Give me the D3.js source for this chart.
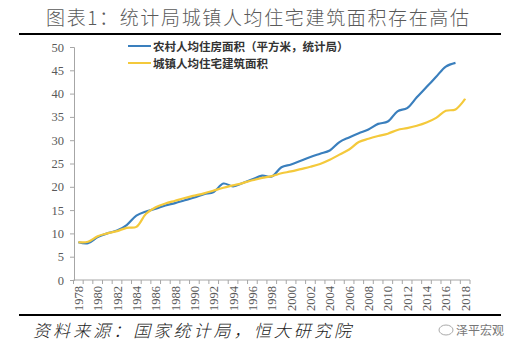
<!DOCTYPE html>
<html><head><meta charset="utf-8">
<script src="https://cdn.jsdelivr.net/npm/d3@7"></script>
<style>body{margin:0;background:#fff}svg{display:block}</style>
</head><body>
<svg id="c" width="519" height="352"></svg>
<script>
const years = d3.range(1978, 2019);
const tickYears = d3.range(1978, 2019, 2);
const yTicks = [0,5,10,15,20,25,30,35,40,45,50];
const ruralValues = [8.1,7.9,9.2,10.0,10.6,11.8,13.8,14.7,15.3,16.0,16.5,17.1,17.7,18.4,18.9,20.7,20.1,20.8,21.6,22.4,22.2,24.2,24.8,25.6,26.4,27.1,27.8,29.6,30.6,31.5,32.3,33.5,34.0,36.2,36.9,39.2,41.4,43.6,45.8,46.6];
const urbanValues = [8.1,8.2,9.4,10.0,10.5,11.2,11.4,14.2,15.6,16.4,17.0,17.6,18.1,18.6,19.2,19.8,20.3,20.8,21.4,21.9,22.3,22.9,23.3,23.8,24.3,24.9,25.8,26.9,28.0,29.6,30.3,30.9,31.4,32.2,32.6,33.1,33.8,34.8,36.3,36.6,38.9];
const legendLabels = ["农村人均住房面积（平方米，统计局）","城镇人均住宅建筑面积"];
const titleText = "图表1：统计局城镇人均住宅建筑面积存在高估";
const sourceText = "资料来源：国家统计局，恒大研究院";
const brandText = "泽平宏观";

const svg = d3.select("#c");
const blue = "#3a7fbd", yellow = "#f4c93b", axisCol = "#a6a6a6", textCol = "#595959";
const cjk = "'Noto Sans CJK SC','Noto Sans',sans-serif";
const serif = "'Liberation Serif','DejaVu Serif',serif";

// title
svg.append("text").attr("x", 46).attr("y", 25).attr("font-family", cjk).attr("font-size", 19)
  .attr("font-weight", 300).attr("fill", "#5a5a5a").attr("textLength", 423).attr("lengthAdjust", "spacing").text(titleText);
svg.append("line").attr("x1", 19).attr("x2", 501).attr("y1", 34).attr("y2", 34).attr("stroke", "#000").attr("stroke-width", 2);
svg.append("line").attr("x1", 19).attr("x2", 501).attr("y1", 315).attr("y2", 315).attr("stroke", "#000").attr("stroke-width", 2);
svg.append("text").attr("x", 33).attr("y", 337).attr("font-family", cjk).attr("font-size", 17).attr("font-style", "italic")
  .attr("font-weight", 300).attr("fill", "#222").attr("textLength", 318).attr("lengthAdjust", "spacing").text(sourceText);
// watermark
const wm = svg.append("g").attr("transform", "translate(446,331)");
wm.append("ellipse").attr("cx", 0).attr("cy", -1).attr("rx", 7).attr("ry", 5).attr("fill", "none").attr("stroke", "#aaa").attr("stroke-width", 1);
wm.append("text").attr("x", 10).attr("y", 4).attr("font-family", cjk).attr("font-size", 12).attr("fill", "#777").text(brandText);

// scales
const x = d3.scaleBand().domain(years).range([73.5, 470]);
const xc = d => x(d) + x.bandwidth() / 2;
const y = d3.scaleLinear().domain([0, 50]).range([280, 47]);

// y axis
const yAxis = svg.append("g").attr("transform", "translate(74,0)")
  .call(d3.axisLeft(y).tickValues(yTicks).tickSize(4).tickPadding(6));
yAxis.select(".domain").attr("stroke", axisCol);
yAxis.selectAll(".tick line").attr("stroke", axisCol);
yAxis.selectAll("text").attr("font-family", serif).attr("font-size", 12.5).attr("fill", textCol);

// x axis
const xg = svg.append("g").attr("transform", "translate(0,280)");
xg.append("line").attr("x1", 73.5).attr("x2", 470).attr("stroke", axisCol);
const bounds = years.map(d => x(d)).concat([470]);
xg.selectAll("line.t").data(bounds).join("line").attr("class", "t")
  .attr("x1", d => d).attr("x2", d => d).attr("y1", 0).attr("y2", 4).attr("stroke", axisCol);
xg.selectAll("text").data(tickYears).join("text")
  .attr("transform", d => `translate(${xc(d) + 4.5},6) rotate(-90)`)
  .attr("text-anchor", "end").attr("font-family", serif).attr("font-size", 12.5).attr("fill", textCol)
  .text(d => d);

// lines
const line = d3.line().x(d => xc(d[0])).y(d => y(d[1])).curve(d3.curveCatmullRom.alpha(0.5));
const ruralData = ruralValues.map((v, i) => [years[i], v]);
const urbanData = urbanValues.map((v, i) => [years[i], v]);
svg.append("path").datum(ruralData).attr("d", line).attr("fill", "none").attr("stroke", blue).attr("stroke-width", 2.2);
svg.append("path").datum(urbanData).attr("d", line).attr("fill", "none").attr("stroke", yellow).attr("stroke-width", 2.2);

// legend
const lg = svg.append("g");
[[blue, 46], [yellow, 63]].forEach((c, i) => {
  lg.append("line").attr("x1", 128).attr("x2", 151).attr("y1", c[1]).attr("y2", c[1]).attr("stroke", c[0]).attr("stroke-width", 2);
  lg.append("text").attr("x", 153).attr("y", c[1] + 4.5).attr("font-family", cjk).attr("font-size", 11.5)
    .attr("font-weight", 700).attr("fill", "#333").text(legendLabels[i]);
});
</script>
</body></html>
